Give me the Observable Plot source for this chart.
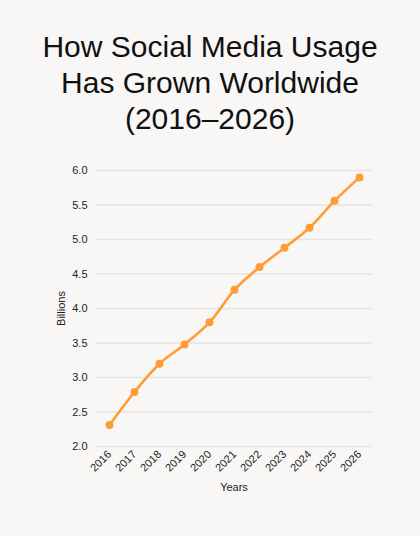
<!DOCTYPE html>
<html>
<head>
<meta charset="utf-8">
<script src="https://cdn.jsdelivr.net/npm/d3@7"></script>
<script src="https://cdn.jsdelivr.net/npm/@observablehq/plot@0.6"></script>
<style>
  html, body { margin: 0; padding: 0; background: #f8f7f5; }
  body { width: 420px; height: 536px; overflow: hidden; font-family: "Liberation Sans", Arial, sans-serif; }
  #title { padding-top: 29px; height: 108px; margin: 0; font-size: 30px; line-height: 36px; font-weight: normal; text-align: center; color: #111; }
  #chart svg { display: block; }
</style>
</head>
<body>
<h1 id="title">How Social Media Usage<br>Has Grown Worldwide<br>(2016–2026)</h1>
<div id="chart"></div>
<script>
const years = ["2016","2017","2018","2019","2020","2021","2022","2023","2024","2025","2026"];
const users = [2.31, 2.79, 3.20, 3.48, 3.80, 4.27, 4.60, 4.88, 5.17, 5.56, 5.90];
const yTicks = [2.0, 2.5, 3.0, 3.5, 4.0, 4.5, 5.0, 5.5, 6.0];

const data = years.map((y, i) => ({year: y, value: users[i]}));
const color = "#ff9d35";

const chart = Plot.plot({
  width: 420,
  height: 360,
  marginTop: 33,
  marginBottom: 51,
  marginLeft: 95,
  marginRight: 48,
  style: {background: "transparent", fontSize: "11px", fontFamily: "Liberation Sans, Arial, sans-serif", color: "#222"},
  x: {type: "point", domain: years, padding: 0.5},
  y: {domain: [2, 6]},
  marks: [
    Plot.gridY(yTicks, {stroke: "#e6e4e1", strokeOpacity: 1, strokeWidth: 1.3}),
    Plot.axisY(yTicks, {tickSize: 0, tickPadding: 8, tickFormat: d => d.toFixed(1), label: "Billions", labelAnchor: "center", labelArrow: "none", labelOffset: 38}),
    Plot.axisX({tickSize: 0, tickRotate: -45, tickPadding: 6, label: "Years", labelAnchor: "center", labelArrow: "none", labelOffset: 44}),
    Plot.line(data, {x: "year", y: "value", stroke: color, strokeWidth: 2.6, curve: "catmull-rom"}),
    Plot.dot(data, {x: "year", y: "value", fill: color, r: 4})
  ]
});
document.getElementById("chart").appendChild(chart);
</script>
</body>
</html>
